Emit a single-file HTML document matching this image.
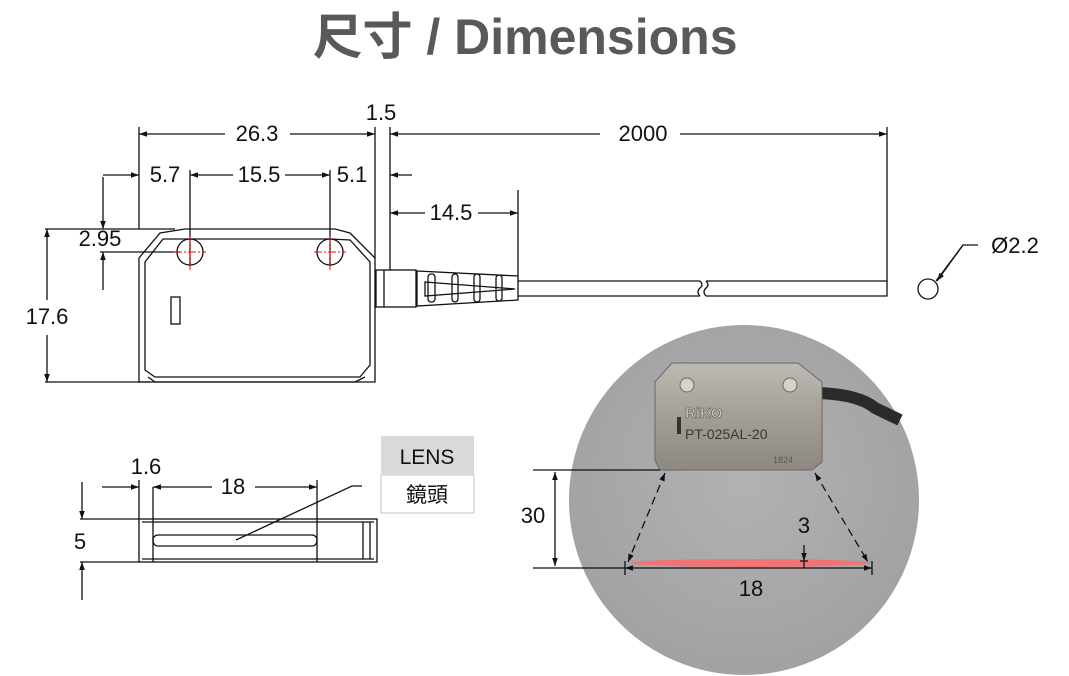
<!DOCTYPE html>
<html><head><meta charset="utf-8"><style>
html,body{margin:0;padding:0;background:#fff;width:1069px;height:676px;overflow:hidden}
svg text{font-family:"Liberation Sans","Noto Sans CJK TC",sans-serif}
</style></head><body>
<svg width="1069" height="676" viewBox="0 0 1069 676" xmlns="http://www.w3.org/2000/svg">
<defs>
<marker id="a" viewBox="0 0 10 10" refX="10" refY="5" markerWidth="12" markerHeight="8" markerUnits="userSpaceOnUse" orient="auto-start-reverse"><path d="M0,1.5 L10,5 L0,8.5z" fill="#111"/></marker>
<radialGradient id="bg" cx="0.5" cy="0.45" r="0.6"><stop offset="0" stop-color="#b2b2b4"/><stop offset="1" stop-color="#a0a0a3"/></radialGradient>
<linearGradient id="met" x1="0" y1="0" x2="0" y2="1"><stop offset="0" stop-color="#bdbab3"/><stop offset="0.5" stop-color="#a39f97"/><stop offset="1" stop-color="#8d8982"/></linearGradient>
</defs>
<text x="525" y="54" text-anchor="middle" font-size="50" font-weight="bold" fill="#595959">尺寸 / Dimensions</text>

<g stroke="#111" stroke-width="1.3" fill="none">
<path d="M139,382 L139,258 L160,233 L185,229 L335,229 L350,233 L375,258 L375,382 Z" fill="#fff"/>
<path d="M145,370 L145,262 L163,239 L330,239 L350,240 L370,262 L370,365 L360,377 L155,377 Z"/>
<path d="M148,377 L155,382 L355,382 L365,377"/>
<rect x="171" y="297" width="9" height="27"/>
<circle cx="190" cy="252" r="13"/><circle cx="330" cy="252" r="13"/>
<rect x="376" y="270" width="40" height="37" fill="#fff"/>
<line x1="384" y1="270" x2="384" y2="307"/>
<path d="M417,271 L518,276 L518,300 L417,306 Z"/>
<path d="M425,282 L515,289 L425,296 Z"/>
<rect x="428" y="274" width="7" height="28" rx="3"/>
<rect x="452" y="274" width="6" height="28" rx="3"/>
<rect x="474" y="274" width="6" height="28" rx="3"/>
<rect x="496" y="275" width="6" height="26" rx="3"/>
<path d="M518,281 L700,281 M518,296 L700,296 M706,281 L887,281 L887,296 L706,296"/>
<path d="M700,281 q4,4 0,7 q-4,4 0,8 M706,281 q4,4 0,7 q-4,4 0,8"/>
<circle cx="928" cy="289" r="10"/>
<path d="M936,281 L963,245 L978,245"/>
<line x1="139" y1="127" x2="139" y2="229"/>
<line x1="375" y1="127" x2="375" y2="258"/>
<line x1="390" y1="127" x2="390" y2="270"/>
<line x1="887" y1="127" x2="887" y2="281"/>
<line x1="518" y1="190" x2="518" y2="276"/>
<line x1="190" y1="170" x2="190" y2="266"/>
<line x1="330" y1="170" x2="330" y2="266"/>
<line x1="139" y1="134" x2="225" y2="134" marker-start="url(#a)"/>
<line x1="290" y1="134" x2="375" y2="134" marker-end="url(#a)"/>
<line x1="390" y1="134" x2="600" y2="134" marker-start="url(#a)"/>
<line x1="680" y1="134" x2="887" y2="134" marker-end="url(#a)"/>
<line x1="103" y1="175" x2="139" y2="175" marker-end="url(#a)"/>
<line x1="190" y1="175" x2="233" y2="175" marker-start="url(#a)"/>
<line x1="285" y1="175" x2="330" y2="175" marker-end="url(#a)"/>
<line x1="412" y1="175" x2="390" y2="175" marker-end="url(#a)"/>
<line x1="390" y1="213" x2="425" y2="213" marker-start="url(#a)"/>
<line x1="478" y1="213" x2="518" y2="213" marker-end="url(#a)"/>
<line x1="45" y1="229" x2="175" y2="229"/>
<line x1="100" y1="252" x2="180" y2="252"/>
<line x1="45" y1="382" x2="150" y2="382"/>
<line x1="103" y1="177" x2="103" y2="229" marker-end="url(#a)"/>
<line x1="103" y1="290" x2="103" y2="252" marker-end="url(#a)"/>
<line x1="47" y1="229" x2="47" y2="300" marker-start="url(#a)"/>
<line x1="47" y1="335" x2="47" y2="382" marker-end="url(#a)"/>
<line x1="963" y1="245" x2="937" y2="281" marker-end="url(#a)"/>
</g>
<g stroke="#ff0000" stroke-width="1" stroke-dasharray="8,2,2,2">
<line x1="174" y1="252" x2="206" y2="252"/><line x1="190" y1="236" x2="190" y2="270"/>
<line x1="314" y1="252" x2="346" y2="252"/><line x1="330" y1="236" x2="330" y2="270"/>
</g>
<g font-size="22" fill="#111" text-anchor="middle">
<text x="257" y="141">26.3</text>
<text x="381" y="120">1.5</text>
<text x="643" y="141">2000</text>
<text x="165" y="182">5.7</text>
<text x="259" y="182">15.5</text>
<text x="352" y="182">5.1</text>
<text x="451" y="220">14.5</text>
<text x="100" y="246">2.95</text>
<text x="47" y="324">17.6</text>
<text x="1015" y="253">Ø2.2</text>
<text x="146" y="474">1.6</text>
<text x="233" y="494">18</text>
<text x="80" y="549">5</text>
</g>

<g stroke="#111" stroke-width="1.3" fill="none">
<rect x="139" y="519" width="238" height="43"/>
<line x1="142" y1="522" x2="374" y2="522"/>
<line x1="142" y1="559" x2="374" y2="559"/>
<line x1="153" y1="487" x2="153" y2="562"/>
<line x1="317" y1="480" x2="317" y2="562"/>
<line x1="139" y1="480" x2="139" y2="519"/>
<rect x="153" y="535" width="164" height="11" rx="5"/>
<line x1="363" y1="522" x2="363" y2="559"/><line x1="370" y1="522" x2="370" y2="559"/>
<line x1="102" y1="487" x2="139" y2="487" marker-end="url(#a)"/>
<line x1="153" y1="487" x2="212" y2="487" marker-start="url(#a)"/>
<line x1="255" y1="487" x2="317" y2="487" marker-end="url(#a)"/>
<line x1="80" y1="519" x2="139" y2="519"/>
<line x1="80" y1="562" x2="139" y2="562"/>
<line x1="82" y1="482" x2="82" y2="519" marker-end="url(#a)"/>
<line x1="82" y1="600" x2="82" y2="562" marker-end="url(#a)"/>
<path d="M236,540 L352,486 L362,486"/>
</g>
<rect x="381" y="436" width="93" height="39" fill="#d9d9d9"/>
<rect x="381" y="475" width="93" height="38" fill="#fff" stroke="#d9d9d9" stroke-width="1.5"/>
<text x="427" y="464" font-size="21" text-anchor="middle" fill="#111">LENS</text>
<text x="427" y="502" font-size="21" text-anchor="middle" fill="#111">鏡頭</text>

<circle cx="744" cy="500" r="175" fill="url(#bg)"/>
<path d="M820,393 Q860,395 875,408 L900,420" stroke="#2a2a2a" stroke-width="12" fill="none"/>
<path d="M655,382 L672,363 L798,363 L822,382 L822,462 L812,470 L660,470 L655,460 Z" fill="url(#met)" stroke="#6b6862"/>
<circle cx="687" cy="385" r="7" fill="#d5d3cc" stroke="#6b6862"/>
<circle cx="790" cy="385" r="7" fill="#d5d3cc" stroke="#6b6862"/>
<rect x="677" y="417" width="4" height="17" fill="#333"/>
<text x="685" y="418" font-size="15" font-weight="bold" fill="#c9c6be" stroke="#5a5750" stroke-width="0.6">RiKO</text>
<text x="685" y="439" font-size="14" fill="#3a3834">PT-025AL-20</text>
<text x="773" y="463" font-size="9" fill="#5a5750">1824</text>
<ellipse cx="750" cy="563" rx="120" ry="4" fill="#ff6a6a" opacity="0.85"/>
<g stroke="#111" stroke-width="1.3" fill="none">
<line x1="533" y1="470" x2="660" y2="470"/>
<line x1="533" y1="568" x2="625" y2="568"/>
<line x1="555" y1="472" x2="555" y2="566" marker-start="url(#a)" marker-end="url(#a)"/>
<line x1="625" y1="568" x2="872" y2="568" marker-start="url(#a)" marker-end="url(#a)"/>
<line x1="625" y1="561" x2="625" y2="575"/><line x1="872" y1="561" x2="872" y2="575"/>
<line x1="804" y1="545" x2="804" y2="561" marker-end="url(#a)"/>
<line x1="800" y1="561" x2="808" y2="561"/><line x1="804" y1="561" x2="804" y2="568"/>
<line x1="665" y1="473" x2="628" y2="562" stroke-dasharray="8,5" marker-start="url(#a)" marker-end="url(#a)"/>
<line x1="815" y1="473" x2="868" y2="562" stroke-dasharray="8,5" marker-start="url(#a)" marker-end="url(#a)"/>
</g>
<g font-size="22" fill="#111" text-anchor="middle">
<text x="533" y="523">30</text>
<text x="804" y="533">3</text>
<text x="751" y="596">18</text>
</g>
</svg>
</body></html>
